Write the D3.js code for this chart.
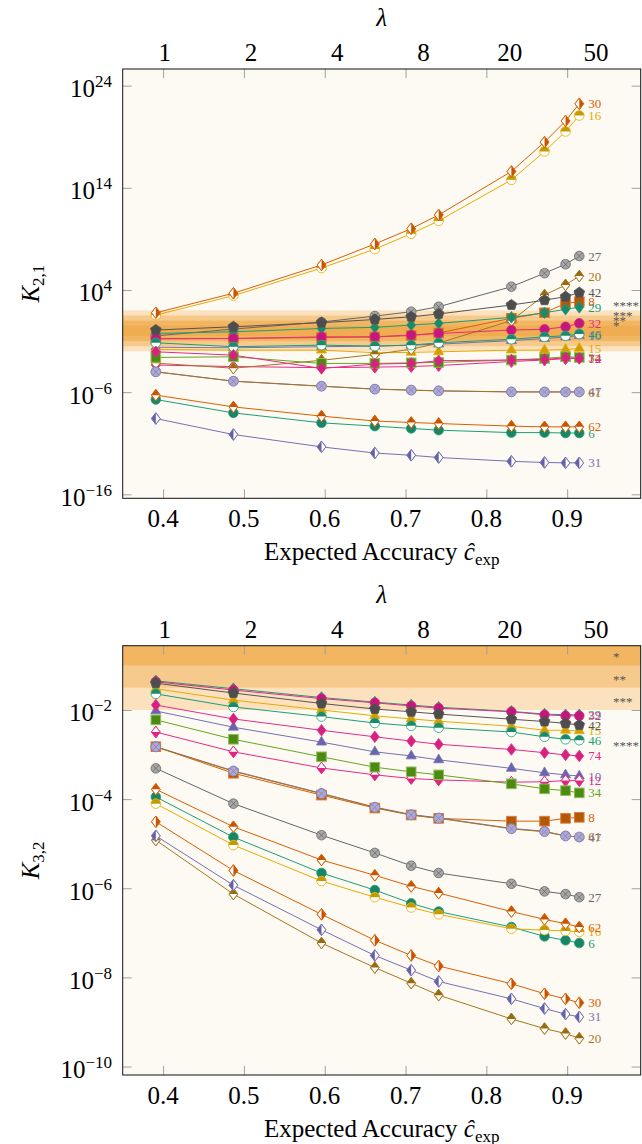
<!DOCTYPE html>
<html><head><meta charset="utf-8">
<script src="https://cdn.jsdelivr.net/npm/d3@7"></script>
<style>
body{margin:0;background:#fff}
svg{display:block}
text{font-family:"Liberation Serif","Times New Roman",serif}
</style>
</head><body><div id="chart"></div>
<script>
// ---------- data ----------
const accuracy = [0.391, 0.487, 0.596, 0.662, 0.707, 0.741, 0.831, 0.872, 0.898, 0.915];
const accTicks = [0.4, 0.5, 0.6, 0.7, 0.8, 0.9];
const lambdaLabels = ['1', '2', '4', '8', '20', '50'];
const seriesIds = ['6','8','10','12','15','16','20','27','29','30','31','32','34','42','46','47','61','62','74'];
const k21Ticks = [1e-16, 1e-6, 1e4, 1e14, 1e24];
const k32Ticks = [1e-10, 1e-8, 1e-6, 1e-4, 1e-2];
const bandLimits = [2, 1.5, 1, 0.5];          // |log10 K| thresholds
const starLabels = ['*', '**', '***', '****'];
const starLevels = [0.75, 1.25, 1.75, 2.75];   // log10 K where stars sit

// K_{2,1}
const K21_6  = [1.9e-7, 9.3e-9, 1.0e-9, 4.7e-10, 2.8e-10, 1.9e-10, 1.1e-10, 1.1e-10, 1.0e-10, 1.0e-10];
const K21_8  = [0.16, 0.18, 0.22, 0.25, 0.35, 0.63, 17, 59, 490, 710];
const K21_10 = [0.025, 0.022, 0.028, 0.032, 0.040, 0.050, 0.11, 0.18, 0.25, 0.35];
const K21_12 = [4.5e-4, 3.2e-4, 2.5e-4, 2.8e-4, 3.2e-4, 4.0e-4, 1.0e-3, 1.4e-3, 1.9e-3, 2.2e-3];
const K21_15 = [0.015, 0.013, 0.013, 0.0072, 0.0078, 0.0089, 0.013, 0.013, 0.015, 0.019];
const K21_16 = [35, 2.8e3, 1.4e6, 1.0e8, 3.2e9, 5.8e10, 6.0e14, 3.6e17, 3.3e19, 1.2e21];
const K21_20 = [6.9e-4, 2.2e-4, 1.3e-3, 5.0e-3, 1.6e-2, 6.3e-2, 10, 3.2e3, 3.1e4, 2.3e5];
const K21_27 = [0.32, 1.5, 7.2, 28, 74, 230, 2.1e4, 4.4e5, 3.3e6, 2.1e7];
const K21_29 = [0.56, 0.81, 1.7, 2.2, 3.7, 5.4, 21, 59, 130, 200];
const K21_30 = [59, 4.8e3, 2.8e6, 3.2e8, 1.0e10, 2.2e11, 4.0e15, 3.0e18, 3.5e20, 1.7e22];
const K21_31 = [2.6e-9, 7.1e-11, 4.4e-12, 1.1e-12, 6.6e-13, 4.0e-13, 1.7e-13, 1.3e-13, 1.2e-13, 1.2e-13];
const K21_32 = [0.18, 0.18, 0.26, 0.26, 0.39, 0.56, 1.2, 1.4, 2.5, 5.5];
const K21_34 = [2.5e-3, 2.9e-3, 6.5e-4, 6.5e-4, 7.4e-4, 8.1e-4, 1.4e-3, 2.0e-3, 2.9e-3, 2.5e-3];
const K21_42 = [1.2, 2.5, 6.3, 13, 24, 45, 340, 1.0e3, 2.2e3, 5.5e3];
const K21_46 = [0.068, 0.028, 0.040, 0.032, 0.040, 0.068, 0.15, 0.26, 0.33, 0.49];
const K21_47 = [1.0e-4, 1.2e-5, 3.9e-6, 2.0e-6, 1.6e-6, 1.35e-6, 1.07e-6, 1.07e-6, 1.07e-6, 1.07e-6];
const K21_61 = [9.5e-5, 1.17e-5, 3.8e-6, 1.95e-6, 1.55e-6, 1.32e-6, 1.05e-6, 1.02e-6, 1.02e-6, 1.02e-6];
const K21_62 = [5.1e-7, 3.6e-8, 4.5e-9, 1.5e-9, 1.07e-9, 8.5e-10, 4.7e-10, 4.0e-10, 4.0e-10, 4.0e-10];
const K21_74 = [8.9e-3, 4.2e-3, 2.1e-4, 5.6e-4, 6.5e-4, 1.2e-3, 1.4e-3, 1.6e-3, 2.3e-3, 2.0e-3];

// K_{3,2}
const K32_6  = [1.12e-4, 1.4e-5, 2.2e-6, 9.1e-7, 4.6e-7, 3.0e-7, 1.35e-7, 8.3e-8, 6.8e-8, 5.9e-8];
const K32_8  = [1.5e-3, 3.8e-4, 1.23e-4, 6.3e-5, 4.4e-5, 3.7e-5, 3.2e-5, 3.2e-5, 3.7e-5, 3.9e-5];
const K32_10 = [9.5e-3, 4.1e-3, 1.9e-3, 1.15e-3, 9.3e-4, 7.6e-4, 4.9e-4, 3.9e-4, 3.5e-4, 3.3e-4];
const K32_12 = [3.2e-3, 1.15e-3, 5.0e-4, 3.5e-4, 2.9e-4, 2.7e-4, 2.4e-4, 2.45e-4, 2.6e-4, 2.6e-4];
const K32_15 = [0.030, 0.0166, 0.010, 7.4e-3, 6.3e-3, 5.6e-3, 4.3e-3, 3.5e-3, 3.5e-3, 3.4e-3];
const K32_16 = [7.9e-5, 9.3e-6, 1.45e-6, 6.3e-7, 3.7e-7, 2.6e-7, 1.23e-7, 1.15e-7, 1.1e-7, 1.05e-7];
const K32_20 = [1.2e-5, 7.4e-7, 5.9e-8, 1.66e-8, 7.4e-9, 4.0e-9, 1.17e-9, 7.1e-10, 5.5e-10, 4.3e-10];
const K32_27 = [4.9e-4, 7.9e-5, 1.55e-5, 6.2e-6, 3.2e-6, 2.2e-6, 1.26e-6, 8.5e-7, 7.4e-7, 6.3e-7];
const K32_29 = [0.045, 0.030, 0.019, 0.015, 0.0129, 0.0115, 0.0093, 0.0081, 0.0078, 0.0078];
const K32_30 = [3.1e-5, 2.5e-6, 2.6e-7, 6.8e-8, 3.1e-8, 1.8e-8, 7.2e-9, 4.3e-9, 3.3e-9, 2.7e-9];
const K32_31 = [1.5e-5, 1.17e-6, 1.17e-7, 3.1e-8, 1.45e-8, 8.1e-9, 3.3e-9, 2.0e-9, 1.5e-9, 1.3e-9];
const K32_32 = [0.043, 0.028, 0.018, 0.0145, 0.0123, 0.011, 0.0091, 0.0078, 0.0074, 0.0074];
const K32_34 = [6.0e-3, 2.2e-3, 8.9e-4, 5.2e-4, 4.1e-4, 3.5e-4, 2.2e-4, 1.7e-4, 1.55e-4, 1.38e-4];
const K32_42 = [0.040, 0.024, 0.014, 0.0105, 0.0091, 0.0081, 0.0062, 0.0055, 0.0050, 0.0046];
const K32_46 = [0.023, 0.0117, 0.0071, 0.0051, 0.0044, 0.0040, 0.0032, 0.0025, 0.0022, 0.0021];
const K32_47 = [1.5e-3, 4.3e-4, 1.35e-4, 6.6e-5, 4.5e-5, 3.8e-5, 2.2e-5, 1.9e-5, 1.5e-5, 1.4e-5];
const K32_61 = [1.48e-3, 4.2e-4, 1.32e-4, 6.5e-5, 4.4e-5, 3.7e-5, 2.15e-5, 1.85e-5, 1.48e-5, 1.42e-5];
const K32_62 = [1.66e-4, 2.4e-5, 4.3e-6, 1.95e-6, 1.1e-6, 7.8e-7, 3.0e-7, 2.0e-7, 1.6e-7, 1.35e-7];
const K32_74 = [0.0129, 6.3e-3, 3.5e-3, 2.5e-3, 2.0e-3, 1.7e-3, 1.3e-3, 1.1e-3, 9.8e-4, 9.3e-4];

// ---------- tables built from the arrays ----------
const K21 = {'6':K21_6,'8':K21_8,'10':K21_10,'12':K21_12,'15':K21_15,'16':K21_16,'20':K21_20,'27':K21_27,'29':K21_29,'30':K21_30,'31':K21_31,'32':K21_32,'34':K21_34,'42':K21_42,'46':K21_46,'47':K21_47,'61':K21_61,'62':K21_62,'74':K21_74};
const K32 = {'6':K32_6,'8':K32_8,'10':K32_10,'12':K32_12,'15':K32_15,'16':K32_16,'20':K32_20,'27':K32_27,'29':K32_29,'30':K32_30,'31':K32_31,'32':K32_32,'34':K32_34,'42':K32_42,'46':K32_46,'47':K32_47,'61':K32_61,'62':K32_62,'74':K32_74};

// ---------- styles ----------
const styles = {
  '6':  {line:'#1b9e77', m:'circle',       fill:'#1a8465', stroke:'#1b9e77'},
  '8':  {line:'#d95f02', m:'square',       fill:'#b35806', stroke:'#e07b39'},
  '10': {line:'#7570b3', m:'triangle',     fill:'#6a64ad', stroke:'#7570b3'},
  '12': {line:'#e7298a', m:'diamondBottom',fill:'#e0237f', stroke:'#e7298a'},
  '15': {line:'#e6ab02', m:'triangle',     fill:'#d39e00', stroke:'#e6ab02'},
  '16': {line:'#e6ab02', m:'circleTop',    fill:'#c39a00', stroke:'#e6ab02'},
  '20': {line:'#a6761d', m:'diamondTop',   fill:'#9a6a10', stroke:'#a6761d'},
  '27': {line:'#666666', m:'otimes',       fill:'#a8a8a8', stroke:'#666666'},
  '29': {line:'#1b9e77', m:'diamond',      fill:'#1a8a6a', stroke:'#1b9e77'},
  '30': {line:'#d95f02', m:'diamondRight', fill:'#c75404', stroke:'#d95f02'},
  '31': {line:'#7570b3', m:'diamondLeft',  fill:'#6460a8', stroke:'#7570b3'},
  '32': {line:'#e7298a', m:'circle',       fill:'#c4177a', stroke:'#d62a85'},
  '34': {line:'#66a61e', m:'square',       fill:'#4d8a12', stroke:'#8fbf5a'},
  '42': {line:'#555555', m:'pentagon',     fill:'#4d4d4d', stroke:'#555555'},
  '46': {line:'#1b9e77', m:'circleTop',    fill:'#1a8a6a', stroke:'#1b9e77'},
  '47': {line:'#7570b3', m:'otimes',       fill:'#aca9d9', stroke:'#7570b3'},
  '61': {line:'#a6761d', m:'otimes',       fill:'#aca9d9', stroke:'#8d80a8'},
  '62': {line:'#d95f02', m:'diamondTop',   fill:'#c75404', stroke:'#d95f02'},
  '74': {line:'#e7298a', m:'diamond',      fill:'#d4237f', stroke:'#e7298a'}
};
const bandColors = ['#fbe1bd', '#f6ca8c', '#f2b562', '#f0ac50'];

// ---------- drawing ----------
const W = 642, H = 1144;
const svg = d3.select('#chart').append('svg').attr('width', W).attr('height', H);
const x = d3.scaleLinear().domain([0.35, 0.991]).range([122.7, 640.7]);
const lambdaX = d3.scalePoint().domain(lambdaLabels).range([164.8, 596]);
const FS = 25;

function poly(pts){ return 'M' + pts.map(p => p.join(',')).join('L') + 'Z'; }
const R = 4.8, DW = 4.4, DH = 5.8;
const dia = [[0,-DH],[DW,0],[0,DH],[-DW,0]];

function drawMarker(g, s) {
  const sw = 0.8;
  const outline = (d, f) => g.append('path').attr('d', d).attr('fill', f).attr('stroke', s.stroke).attr('stroke-width', sw);
  switch (s.m) {
    case 'circle':
      g.append('circle').attr('r', R).attr('fill', s.fill).attr('stroke', s.stroke).attr('stroke-width', sw); break;
    case 'circleTop':
      g.append('circle').attr('r', R).attr('fill', '#fff');
      g.append('path').attr('d', `M${-R},0A${R},${R} 0 0 1 ${R},0Z`).attr('fill', s.fill);
      g.append('circle').attr('r', R).attr('fill', 'none').attr('stroke', s.stroke).attr('stroke-width', sw); break;
    case 'otimes': {
      g.append('circle').attr('r', R).attr('fill', s.fill).attr('stroke', s.stroke).attr('stroke-width', sw);
      const a = R * 0.7;
      g.append('path').attr('d', `M${-a},${-a}L${a},${a}M${-a},${a}L${a},${-a}`).attr('stroke', s.stroke).attr('stroke-width', sw);
      break; }
    case 'square':
      g.append('rect').attr('x', -R).attr('y', -R).attr('width', 2*R).attr('height', 2*R)
        .attr('fill', s.fill).attr('stroke', s.stroke).attr('stroke-width', 1); break;
    case 'diamond':
      outline(poly(dia), s.fill); break;
    case 'diamondTop':
      outline(poly(dia), '#fff');
      g.append('path').attr('d', poly([[-DW,0],[0,-DH],[DW,0]])).attr('fill', s.fill);
      outline(poly(dia), 'none'); break;
    case 'diamondBottom':
      outline(poly(dia), '#fff');
      g.append('path').attr('d', poly([[-DW,0],[DW,0],[0,DH]])).attr('fill', s.fill);
      outline(poly(dia), 'none'); break;
    case 'diamondLeft':
      outline(poly(dia), '#fff');
      g.append('path').attr('d', poly([[0,-DH],[0,DH],[-DW,0]])).attr('fill', s.fill);
      outline(poly(dia), 'none'); break;
    case 'diamondRight':
      outline(poly(dia), '#fff');
      g.append('path').attr('d', poly([[0,-DH],[DW,0],[0,DH]])).attr('fill', s.fill);
      outline(poly(dia), 'none'); break;
    case 'triangle': {
      const r = 5.8;
      outline(poly([[0,-r],[r*0.866,r*0.5],[-r*0.866,r*0.5]]), s.fill); break; }
    case 'pentagon': {
      const r = 5.6, pts = d3.range(5).map(i => { const a = -Math.PI/2 + i*2*Math.PI/5; return [r*Math.cos(a), r*Math.sin(a)]; });
      outline(poly(pts), s.fill); break; }
  }
}

const panels = [
  {data: K21, top: 69, bottom: 498.3, domain: [Math.pow(10,-16.39), Math.pow(10,25.63)], ticks: k21Ticks, sub: '2,1', sign: 1, id: 'p1'},
  {data: K32, top: 645.7, bottom: 1075, domain: [Math.pow(10,-10.19), Math.pow(10,-0.558)], ticks: k32Ticks, sub: '3,2', sign: -1, id: 'p2'}
];

panels.forEach(P => {
  const y = d3.scaleLog().domain(P.domain).range([P.bottom, P.top]);
  const [x0, x1] = x.range();
  const g = svg.append('g');

  g.append('clipPath').attr('id', 'clip' + P.id).append('rect')
    .attr('x', x0).attr('y', P.top).attr('width', x1 - x0).attr('height', P.bottom - P.top);

  // background
  g.append('rect').attr('x', x0).attr('y', P.top).attr('width', x1 - x0).attr('height', P.bottom - P.top).attr('fill', '#fdfaf4');

  // significance bands
  const bands = g.append('g').attr('clip-path', `url(#clip${P.id})`);
  bandLimits.forEach((L, i) => {
    const yA = y(Math.pow(10, L)), yB = y(Math.pow(10, -L));
    bands.append('rect').attr('x', x0).attr('width', x1 - x0)
      .attr('y', Math.min(yA, yB)).attr('height', Math.abs(yB - yA)).attr('fill', bandColors[i]);
  });

  // ticks (inward) on all four sides
  const tickStyle = sel => { sel.select('.domain').remove(); sel.selectAll('line').attr('stroke', '#a0a0a0').attr('stroke-width', 1); sel.selectAll('text').remove(); };
  g.append('g').attr('transform', `translate(0,${P.bottom})`).call(d3.axisBottom(x).tickValues(accTicks).tickSize(-9).tickFormat('')).call(tickStyle);
  g.append('g').attr('transform', `translate(0,${P.top})`).call(d3.axisTop(x).tickValues(accTicks).tickSize(-9).tickFormat('')).call(tickStyle);
  g.append('g').attr('transform', `translate(${x0},0)`).call(d3.axisLeft(y).tickValues(P.ticks).tickSize(-9).tickFormat('')).call(tickStyle);
  g.append('g').attr('transform', `translate(${x1},0)`).call(d3.axisRight(y).tickValues(P.ticks).tickSize(-9).tickFormat('')).call(tickStyle);

  // series
  const line = d3.line().x((d, i) => x(accuracy[i])).y(d => y(d));
  seriesIds.forEach(id => {
    const vals = P.data[id], s = styles[id];
    const sg = g.append('g');
    sg.append('path').attr('d', line(vals)).attr('fill', 'none').attr('stroke', s.line).attr('stroke-width', 1);
    vals.forEach((v, i) => drawMarker(sg.append('g').attr('transform', `translate(${x(accuracy[i])},${y(v)})`), s));
  });
  // series end labels
  seriesIds.forEach(id => {
    const vals = P.data[id], n = vals.length - 1;
    g.append('text').attr('x', x(accuracy[n]) + 9).attr('y', y(vals[n])).attr('dominant-baseline', 'central')
      .attr('font-size', 13).attr('fill', styles[id].line).text(id);
  });

  // star labels
  starLabels.forEach((t, i) => {
    g.append('text').attr('x', 613).attr('y', y(Math.pow(10, P.sign * starLevels[i])) + 7)
      .attr('font-size', 13).attr('fill', '#555').text(t);
  });

  // frame
  g.append('rect').attr('x', x0).attr('y', P.top).attr('width', x1 - x0).attr('height', P.bottom - P.top)
    .attr('fill', 'none').attr('stroke', '#111').attr('stroke-width', 1);

  // bottom tick labels & title
  accTicks.forEach(t => g.append('text').attr('x', x(t)).attr('y', P.bottom + 28.5).attr('text-anchor', 'middle')
    .attr('font-size', FS).text(t.toFixed(1)));
  const xt = g.append('text').attr('x', (x0 + x1) / 2).attr('y', P.bottom + 61.5).attr('text-anchor', 'middle').attr('font-size', FS);
  xt.append('tspan').text('Expected Accuracy ');
  xt.append('tspan').attr('font-style', 'italic').text('\u0109');
  xt.append('tspan').attr('font-size', 17).attr('dy', 5).text('exp');

  // top lambda labels & title
  lambdaLabels.forEach(l => g.append('text').attr('x', lambdaX(l)).attr('y', P.top - 8).attr('text-anchor', 'middle')
    .attr('font-size', FS).text(l));
  g.append('text').attr('x', (x0 + x1) / 2).attr('y', P.top - 43).attr('text-anchor', 'middle')
    .attr('font-size', FS).attr('font-style', 'italic').text('\u03bb');

  // y tick labels
  P.ticks.forEach(t => {
    const e = Math.round(Math.log10(t));
    const tx = g.append('text').attr('x', 112).attr('y', y(t) + 11.5).attr('text-anchor', 'end').attr('font-size', FS);
    tx.append('tspan').text('10');
    tx.append('tspan').attr('font-size', 17).attr('dy', -10).text(e < 0 ? '\u2212' + (-e) : String(e));
  });

  // y title
  const yt = g.append('text').attr('transform', `translate(39,${(P.top + P.bottom) / 2}) rotate(-90)`)
    .attr('text-anchor', 'middle').attr('font-size', FS);
  yt.append('tspan').attr('font-style', 'italic').text('K');
  yt.append('tspan').attr('font-size', 17).attr('dy', 5).text(P.sub);
});
</script>
</body></html>
